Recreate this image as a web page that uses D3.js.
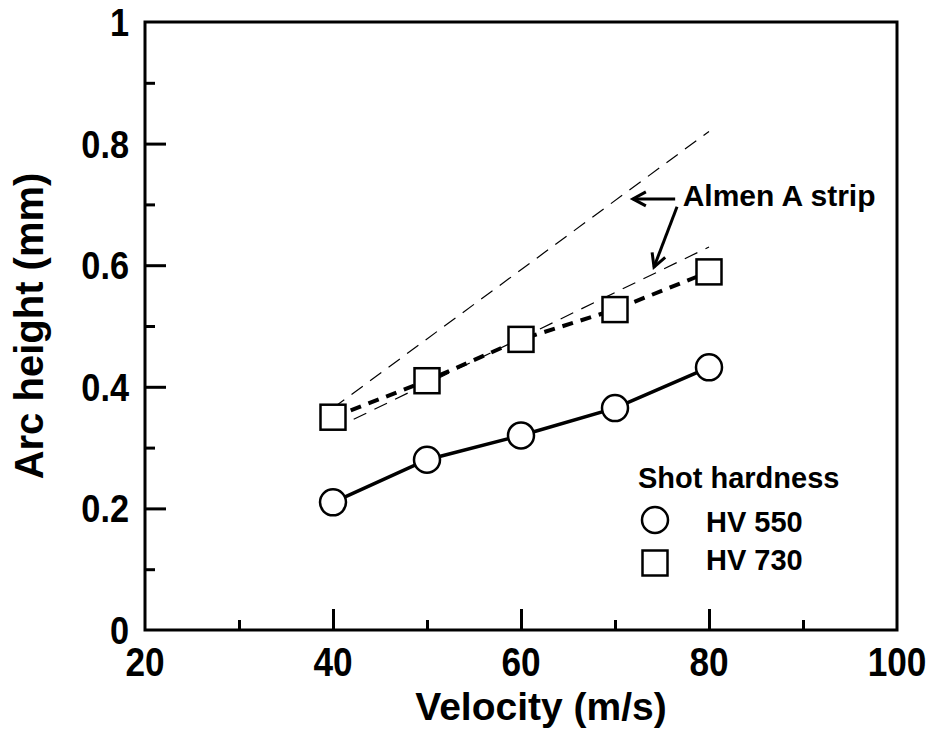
<!DOCTYPE html>
<html>
<head>
<meta charset="utf-8">
<script src="https://cdn.jsdelivr.net/npm/d3@7"></script>
<style>
  body { margin: 0; background: #fff; }
  text { font-family: "Liberation Sans", Arial, sans-serif; font-weight: bold; fill: #000; }
</style>
</head>
<body>
<div id="chart"></div>
<script>
// data
let velocity = [40, 50, 60, 70, 80];
let hv550 = [0.21, 0.28, 0.32, 0.365, 0.432];
let hv730 = [0.35, 0.41, 0.478, 0.527, 0.589];
// Almen A strip reference lines (thin dashed)
let almenUpper = [[40, 0.365], [80, 0.82]];
let almenLower = [[40, 0.33], [80, 0.63]];

let xTicks = [20, 40, 60, 80, 100];
let xMinor = [30, 50, 70, 90];
let yTicks = [0, 0.2, 0.4, 0.6, 0.8, 1];
let yMinor = [0.1, 0.3, 0.5, 0.7, 0.9];

let width = 928, height = 742;
let margin = {top: 22, right: 31, bottom: 112, left: 145};

let svg = d3.select("#chart")
    .append("svg")
    .attr("width", width)
    .attr("height", height);

let x = d3.scaleLinear()
    .domain([20, 100])
    .range([margin.left, width - margin.right]);

let y = d3.scaleLinear()
    .domain([0, 1])
    .range([height - margin.bottom, margin.top]);

let black = "#000";

// frame
svg.append("rect")
    .attr("x", x(20))
    .attr("y", y(1))
    .attr("width", x(100) - x(20))
    .attr("height", y(0) - y(1))
    .attr("fill", "none")
    .attr("stroke", black)
    .attr("stroke-width", 3);

// inward ticks on bottom axis
svg.append("g")
    .attr("transform", `translate(0, ${y(0)})`)
    .call(d3.axisBottom(x).tickValues(xTicks.slice(1, -1)).tickSize(-21).tickFormat(""))
    .call(g => g.select(".domain").remove())
    .call(g => g.selectAll("line").attr("stroke-width", 3));
svg.append("g")
    .attr("transform", `translate(0, ${y(0)})`)
    .call(d3.axisBottom(x).tickValues(xMinor).tickSize(-10).tickFormat(""))
    .call(g => g.select(".domain").remove())
    .call(g => g.selectAll("line").attr("stroke-width", 3));

// inward ticks on left axis
svg.append("g")
    .attr("transform", `translate(${x(20)}, 0)`)
    .call(d3.axisLeft(y).tickValues(yTicks.slice(1, -1)).tickSize(-21).tickFormat(""))
    .call(g => g.select(".domain").remove())
    .call(g => g.selectAll("line").attr("stroke-width", 3));
svg.append("g")
    .attr("transform", `translate(${x(20)}, 0)`)
    .call(d3.axisLeft(y).tickValues(yMinor).tickSize(-10).tickFormat(""))
    .call(g => g.select(".domain").remove())
    .call(g => g.selectAll("line").attr("stroke-width", 3));

// tick labels (narrowed a bit, the original face is condensed)
svg.selectAll(".xlab")
    .data(xTicks)
    .enter()
    .append("text")
    .attr("transform", d => `translate(${x(d)}, ${y(0) + 46}) scale(0.88, 1)`)
    .style("text-anchor", "middle")
    .style("font-size", "40px")
    .text(d => d);

svg.selectAll(".ylab")
    .data(yTicks)
    .enter()
    .append("text")
    .attr("transform", d => `translate(${x(20) - 16}, ${y(d) + 14}) scale(0.88, 1)`)
    .style("text-anchor", "end")
    .style("font-size", "39px")
    .text(d => d);

// axis titles
svg.append("text")
    .attr("x", (x(20) + x(100)) / 2 + 20)
    .attr("y", 720)
    .style("text-anchor", "middle")
    .style("font-size", "39px")
    .text("Velocity (m/s)");

svg.append("text")
    .attr("transform", `translate(43, ${(y(0) + y(1)) / 2}) rotate(-90)`)
    .style("text-anchor", "middle")
    .style("font-size", "40px")
    .text("Arc height (mm)");

let line = d3.line()
    .x(d => x(d[0]))
    .y(d => y(d[1]));

// Almen strip lines
[almenUpper, almenLower].forEach(function(pts) {
    svg.append("path")
        .attr("d", line(pts))
        .attr("fill", "none")
        .attr("stroke", black)
        .attr("stroke-width", 1.2)
        .attr("stroke-dasharray", "14 9");
});

let s550 = velocity.map((v, i) => [v, hv550[i]]);
let s730 = velocity.map((v, i) => [v, hv730[i]]);

svg.append("path")
    .attr("d", line(s550))
    .attr("fill", "none")
    .attr("stroke", black)
    .attr("stroke-width", 3.5);

svg.append("path")
    .attr("d", line(s730))
    .attr("fill", "none")
    .attr("stroke", black)
    .attr("stroke-width", 4)
    .attr("stroke-dasharray", "11 8");

// markers
svg.selectAll(".c550")
    .data(s550)
    .enter()
    .append("circle")
    .attr("cx", d => x(d[0]))
    .attr("cy", d => y(d[1]))
    .attr("r", 13)
    .attr("fill", "#fff")
    .attr("stroke", black)
    .attr("stroke-width", 2.5);

let sq = 25;
svg.selectAll(".s730")
    .data(s730)
    .enter()
    .append("rect")
    .attr("x", d => x(d[0]) - sq / 2)
    .attr("y", d => y(d[1]) - sq / 2)
    .attr("width", sq)
    .attr("height", sq)
    .attr("fill", "#fff")
    .attr("stroke", black)
    .attr("stroke-width", 2.5);

// annotation arrows
svg.append("defs").append("marker")
    .attr("id", "arrow")
    .attr("viewBox", "-16 -10 20 20")
    .attr("refX", 0)
    .attr("refY", 0)
    .attr("markerWidth", 20)
    .attr("markerHeight", 20)
    .attr("markerUnits", "userSpaceOnUse")
    .attr("orient", "auto")
    .append("path")
    .attr("d", "M-13,-7 L0,0 L-13,7")
    .attr("fill", "none")
    .attr("stroke", black)
    .attr("stroke-width", 3);

let arrows = [
    [[76.4, 0.709], [71.9, 0.709]],
    [[76.6, 0.696], [74.15, 0.597]]
];
arrows.forEach(function(a) {
    svg.append("line")
        .attr("x1", x(a[0][0]))
        .attr("y1", y(a[0][1]))
        .attr("x2", x(a[1][0]))
        .attr("y2", y(a[1][1]))
        .attr("stroke", black)
        .attr("stroke-width", 3)
        .attr("marker-end", "url(#arrow)");
});

svg.append("text")
    .attr("x", x(77.2))
    .attr("y", y(0.697))
    .style("font-size", "30px")
    .text("Almen A strip");

// legend
let legend = svg.append("g");
legend.append("text")
    .attr("x", 638)
    .attr("y", 488)
    .style("font-size", "29px")
    .text("Shot hardness");
legend.append("circle")
    .attr("cx", 655)
    .attr("cy", 520)
    .attr("r", 13)
    .attr("fill", "#fff")
    .attr("stroke", black)
    .attr("stroke-width", 2.5);
legend.append("text")
    .attr("x", 706)
    .attr("y", 532)
    .style("font-size", "29px")
    .text("HV 550");
legend.append("rect")
    .attr("x", 655 - sq / 2)
    .attr("y", 563 - sq / 2)
    .attr("width", sq)
    .attr("height", sq)
    .attr("fill", "#fff")
    .attr("stroke", black)
    .attr("stroke-width", 2.5);
legend.append("text")
    .attr("x", 706)
    .attr("y", 570)
    .style("font-size", "29px")
    .text("HV 730");
</script>
</body>
</html>
